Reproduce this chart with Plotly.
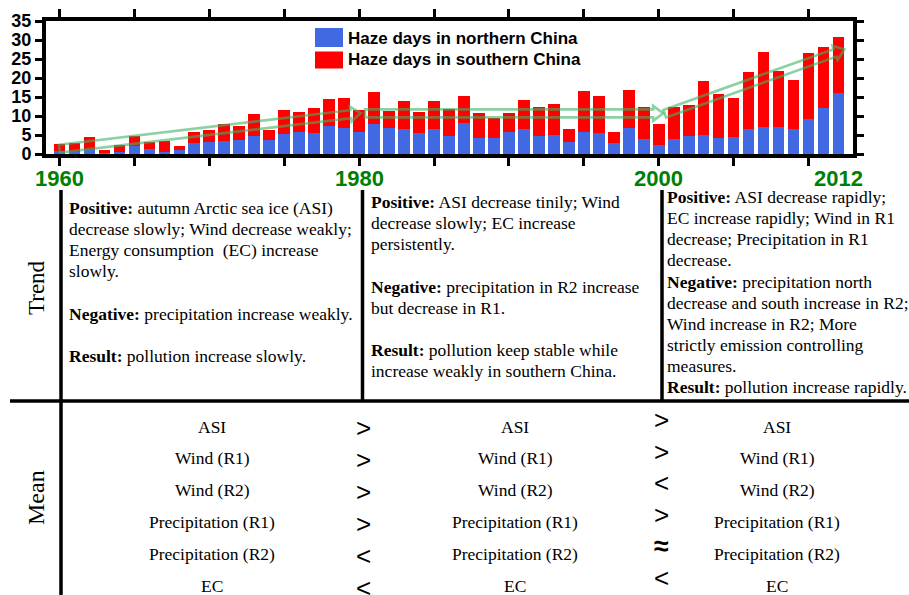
import math
import plotly.graph_objects as go

# ---------------- data ----------------
years = list(range(1960, 2013))
north = [0.9, 0.4, 1.0, 0.2, 0.4, 2.2, 1.3, 0.6, 1.1, 2.8,
         3.1, 3.4, 3.6, 4.7, 3.7, 5.2, 5.9, 5.4, 7.3, 6.8,
         5.8, 8.0, 6.8, 6.5, 5.6, 6.6, 4.7, 8.2, 4.3, 4.1,
         5.8, 6.7, 4.8, 5.1, 3.1, 5.8, 5.6, 2.8, 6.8, 4.0,
         2.5, 4.0, 4.8, 5.0, 4.1, 4.5, 6.6, 7.0, 7.2, 6.6,
         9.3, 12.1, 16.1]
south = [1.7, 2.5, 3.5, 0.8, 2.0, 2.6, 1.9, 2.8, 1.1, 2.9,
         3.1, 4.4, 3.7, 5.8, 2.6, 6.5, 5.1, 6.6, 7.3, 7.9,
         5.7, 8.2, 4.5, 7.4, 5.5, 7.4, 7.1, 7.0, 6.5, 5.5,
         5.0, 7.4, 7.6, 8.0, 3.4, 10.8, 9.6, 3.0, 10.0, 8.5,
         5.5, 8.4, 8.0, 14.2, 11.6, 10.2, 15.0, 19.9, 14.7, 12.8,
         17.2, 16.0, 14.6]
series_names = ["Haze days in northern China", "Haze days in southern China"]
series_colors = ["#4169E1", "#FF0000"]

x_tick_years = list(range(1960, 2011, 5))
label_years = [1960, 1980, 2000, 2012]
label_text = ["1960", "1980", "2000", "2012"]
y_ticks = [0, 5, 10, 15, 20, 25, 30, 35]

# trend arrows (start year, start value, tip year, tip value)
arrow_start_year = [1960.0, 1980.4, 2000.4]
arrow_start_val = [1.4, 10.7, 10.6]
arrow_end_year = [1980.1, 2000.3, 2012.4]
arrow_end_val = [10.8, 10.7, 27.5]

trend_col1 = ["<b>Positive:</b> autumn Arctic sea ice (ASI)",
              "decrease slowly; Wind decrease weakly;",
              "Energy consumption &nbsp;(EC) increase",
              "slowly.",
              "",
              "<b>Negative:</b> precipitation increase weakly.",
              "",
              "<b>Result:</b> pollution increase slowly."]
trend_col2 = ["<b>Positive:</b> ASI decrease tinily; Wind",
              "decrease slowly; EC increase",
              "persistently.",
              "",
              "<b>Negative:</b> precipitation in R2 increase",
              "but decrease in R1.",
              "",
              "<b>Result:</b> pollution keep stable while",
              "increase weakly in southern China."]
trend_col3 = ["<b>Positive:</b> ASI decrease rapidly;",
              "EC increase rapidly; Wind in R1",
              "decrease; Precipitation in R1",
              "decrease.",
              "<b>Negative:</b> precipitation north",
              "decrease and south increase in R2;",
              "Wind increase in R2; More",
              "strictly emission controlling",
              "measures.",
              "<b>Result:</b> pollution increase rapidly."]

mean_items = ["ASI", "Wind (R1)", "Wind (R2)", "Precipitation (R1)",
              "Precipitation (R2)", "EC"]
compare_12 = [">", ">", ">", ">", "<", "<"]
compare_23 = [">", ">", "<", ">", "\u2248", "<"]

# ---------------- layout helpers ----------------
W, H = 909, 595
def px(x):
    return x / W
def py(y):
    return 1 - y / H

X_LEFT, X_RIGHT = 46, 853      # plot area in pixels
Y_TOP, Y_BOT = 21, 154
x_range = [1960 - (59.5 - X_LEFT) / 14.98, 1960 + (X_RIGHT - 59.5) / 14.98]
y_range = [0, 35]
sx = (X_RIGHT - X_LEFT) / (x_range[1] - x_range[0])
sy = (Y_BOT - Y_TOP) / (y_range[1] - y_range[0])

SERIF = "Liberation Serif, Times New Roman, serif"
SANS = "Liberation Sans, Arial, sans-serif"

fig = go.Figure()
fig.add_trace(go.Bar(x=years, y=north, name=series_names[0],
                     marker=dict(color=series_colors[0], line=dict(width=0)),
                     width=0.78, showlegend=False))
fig.add_trace(go.Bar(x=years, y=south, name=series_names[1],
                     marker=dict(color=series_colors[1], line=dict(width=0)),
                     width=0.78, showlegend=False))

shapes = []
annotations = []

# ---- trend arrows (hollow block arrows) ----
def arrow_path(x0, y0, x1, y1, w=4.0, h=7.5, L=10.0):
    X0, Y0 = x0 * sx, y0 * sy
    X1, Y1 = x1 * sx, y1 * sy
    dx, dy = X1 - X0, Y1 - Y0
    ln = math.hypot(dx, dy)
    ux, uy = dx / ln, dy / ln
    nx, ny = -uy, ux
    bx, by = X1 - L * ux, Y1 - L * uy
    pts = [(X0 + w * nx, Y0 + w * ny), (bx + w * nx, by + w * ny),
           (bx + h * nx, by + h * ny), (X1, Y1),
           (bx - h * nx, by - h * ny), (bx - w * nx, by - w * ny),
           (X0 - w * nx, Y0 - w * ny)]
    s = ""
    for i, (a, b) in enumerate(pts):
        s += ("M" if i == 0 else "L") + f"{a / sx:.4f},{b / sy:.4f} "
    return s + "Z"

for i in range(len(arrow_start_year)):
    shapes.append(dict(type="path", xref="x", yref="y",
                       path=arrow_path(arrow_start_year[i], arrow_start_val[i],
                                       arrow_end_year[i], arrow_end_val[i]),
                       line=dict(color="rgba(60,180,100,0.6)", width=2.6),
                       fillcolor="rgba(0,0,0,0)", layer="above"))

# ---- manual legend ----
leg_rows = [(28, 47, 38), (51.5, 68.5, 60)]
for i, (t, b, c) in enumerate(leg_rows):
    shapes.append(dict(type="rect", xref="paper", yref="paper",
                       x0=px(315), x1=px(343), y0=py(b), y1=py(t),
                       fillcolor=series_colors[i], line=dict(width=0)))
    annotations.append(dict(x=px(346), y=py(c), xref="paper", yref="paper",
                            text="<b>" + series_names[i] + "</b>", showarrow=False,
                            xanchor="left", yanchor="middle",
                            font=dict(family=SANS, size=17, color="black")))

# ---- x tick labels (green) ----
for yr, txt in zip(label_years, label_text):
    annotations.append(dict(x=yr, y=py(178), xref="x", yref="paper",
                            text="<b>" + txt + "</b>", showarrow=False,
                            xanchor="center", yanchor="middle",
                            font=dict(family=SANS, size=22, color="#008000")))

# ---- table lines ----
LW = 3.5
shapes.append(dict(type="line", xref="paper", yref="paper",
                   x0=px(61), x1=px(61), y0=py(190), y1=0,
                   line=dict(color="black", width=LW)))
for xl in (362.5, 662):
    shapes.append(dict(type="line", xref="paper", yref="paper",
                       x0=px(xl), x1=px(xl), y0=py(190), y1=py(401),
                       line=dict(color="black", width=LW)))
shapes.append(dict(type="line", xref="paper", yref="paper",
                   x0=px(10), x1=1, y0=py(401), y1=py(401),
                   line=dict(color="black", width=LW)))

# ---- row labels ----
annotations.append(dict(x=px(36), y=py(288), xref="paper", yref="paper",
                        text="Trend", showarrow=False, textangle=-90,
                        xanchor="center", yanchor="middle",
                        font=dict(family=SERIF, size=23, color="black")))
annotations.append(dict(x=px(36), y=py(498), xref="paper", yref="paper",
                        text="Mean", showarrow=False, textangle=-90,
                        xanchor="center", yanchor="middle",
                        font=dict(family=SERIF, size=24, color="black")))

# ---- trend text ----
LS = 21.15
for lines, x0, y0 in ((trend_col1, 67, 208), (trend_col2, 369, 202), (trend_col3, 665, 197)):
    for k, ln in enumerate(lines):
        if not ln:
            continue
        annotations.append(dict(x=px(x0), y=py(y0 + LS * k), xref="paper", yref="paper",
                                text=ln, showarrow=False, xanchor="left", yanchor="middle",
                                font=dict(family=SERIF, size=17.5, color="black")))

# ---- mean text ----
for k, item in enumerate(mean_items):
    yy = 426.5 + 31.9 * k
    for xc in (212, 515, 777):
        annotations.append(dict(x=px(xc), y=py(yy), xref="paper", yref="paper",
                                text=item, showarrow=False, xanchor="center", yanchor="middle",
                                font=dict(family=SERIF, size=17.5, color="black")))
    annotations.append(dict(x=px(363), y=py(428 + 32 * k), xref="paper", yref="paper",
                            text=compare_12[k], showarrow=False, xanchor="center",
                            yanchor="middle", font=dict(family=SANS, size=26, color="black")))
    is_approx = compare_23[k] == "\u2248"
    annotations.append(dict(x=px(661), y=py(420 + 31.6 * k), xref="paper", yref="paper",
                            text=("<b>" + compare_23[k] + "</b>") if is_approx else compare_23[k],
                            showarrow=False, xanchor="center", yanchor="middle",
                            font=dict(family=SANS, size=27 if is_approx else 26, color="black")))

fig.update_layout(
    width=W, height=H, margin=dict(l=0, r=0, t=0, b=0, pad=0, autoexpand=False),
    paper_bgcolor="white", plot_bgcolor="white",
    barmode="stack", bargap=0, showlegend=False,
    shapes=shapes, annotations=annotations,
    xaxis=dict(domain=[px(X_LEFT), px(X_RIGHT)], range=x_range, automargin=False,
               showline=True, linecolor="black", linewidth=4, mirror="ticks",
               ticks="outside", ticklen=8, tickwidth=3, tickcolor="black",
               tickvals=x_tick_years, showticklabels=False,
               showgrid=False, zeroline=False, fixedrange=True),
    yaxis=dict(domain=[py(Y_BOT), py(Y_TOP)], range=y_range, automargin=False,
               showline=True, linecolor="black", linewidth=4, mirror="ticks",
               ticks="outside", ticklen=7, tickwidth=3, tickcolor="black",
               tickvals=y_ticks,
               tickfont=dict(family=SANS, size=18, color="black", weight="bold"),
               showgrid=False, zeroline=False, fixedrange=True),
)

page_fix = (
    "var d=document.getElementById('{plot_id}');"
    "var h=document.documentElement, b=document.body;"
    "h.style.margin='0';h.style.padding='0';h.style.overflow='hidden';"
    "b.style.margin='0';b.style.padding='0';b.style.overflow='hidden';"
    "b.style.width='909px';b.style.height='595px';"
    "d.style.position='absolute';d.style.left='0px';d.style.top='0px';"
)
fig.write_html("out.html", config={"displayModeBar": False}, post_script=page_fix)
